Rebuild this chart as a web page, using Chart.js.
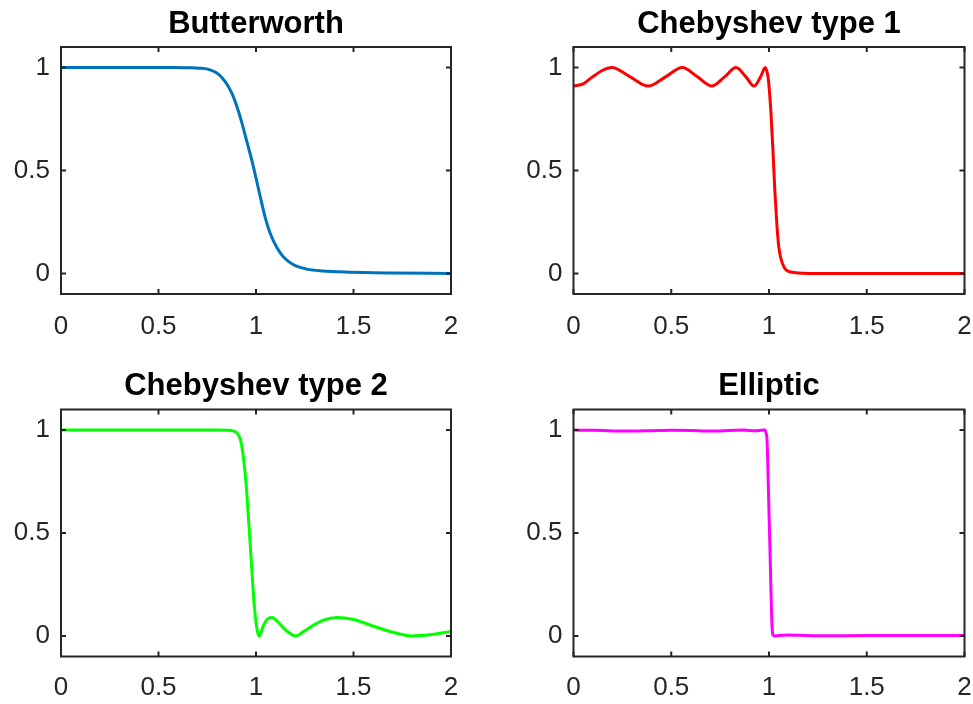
<!DOCTYPE html>
<html><head><meta charset="utf-8">
<script src="https://cdn.jsdelivr.net/npm/chart.js@4.4.0/dist/chart.umd.min.js"></script>
<style>
html,body{margin:0;padding:0;background:#fff;}
#wrap{position:relative;width:973px;height:704px;overflow:hidden;background:#fff;}
canvas{position:absolute;}
</style></head><body>
<div id="wrap">
<canvas id="c0" style="left:0px;top:0px;width:486px;height:352px" width="486" height="352"></canvas>
<canvas id="c1" style="left:486px;top:0px;width:487px;height:352px" width="487" height="352"></canvas>
<canvas id="c2" style="left:0px;top:352px;width:486px;height:352px" width="486" height="352"></canvas>
<canvas id="c3" style="left:486px;top:352px;width:487px;height:352px" width="487" height="352"></canvas>
</div>
<script>
const xTicks = [0, 0.5, 1, 1.5, 2];
const yTicks = [0, 0.5, 1];
const titles = ['Butterworth', 'Chebyshev type 1', 'Chebyshev type 2', 'Elliptic'];
const colors = ['#0072BD', '#FF0000', '#00FF00', '#FF00FF'];

const butterX = [0, 0.3, 0.5, 0.56, 0.65, 0.71, 0.765, 0.807, 0.842, 0.876, 0.902, 0.928, 0.953, 0.979, 1.0, 1.021, 1.047, 1.073, 1.107, 1.141, 1.192, 1.261, 1.346, 1.423, 1.55, 1.7, 2.0];
const butterY = [1, 1, 1, 1, 0.999, 0.997, 0.989, 0.968, 0.932, 0.876, 0.811, 0.73, 0.641, 0.548, 0.464, 0.376, 0.272, 0.194, 0.126, 0.08, 0.042, 0.021, 0.012, 0.008, 0.004, 0.002, 0];

const cheb1X = [0, 0.05, 0.098, 0.15, 0.195, 0.29, 0.383, 0.471, 0.556, 0.634, 0.707, 0.773, 0.831, 0.882, 0.924, 0.957, 0.981, 0.995, 1.0, 1.01, 1.02, 1.03, 1.04, 1.05, 1.06, 1.08, 1.1, 1.15, 1.2, 1.5, 2.0];
const cheb1Y = [0.91, 0.921, 0.955, 0.987, 1.0, 0.955, 0.91, 0.955, 1.0, 0.955, 0.91, 0.955, 1.0, 0.955, 0.91, 0.955, 1.0, 0.955, 0.91, 0.78, 0.6, 0.4, 0.24, 0.13, 0.075, 0.025, 0.01, 0.002, 0, 0, 0];

const cheb2X = [0, 0.5, 0.8, 0.85, 0.88, 0.9, 0.92, 0.935, 0.95, 0.96, 0.97, 0.98, 0.99, 1.0, 1.008, 1.017, 1.04, 1.06, 1.082, 1.11, 1.14, 1.17, 1.203, 1.25, 1.3, 1.35, 1.414, 1.5, 1.6, 1.7, 1.8, 1.9, 2.0];
const cheb2Y = [1, 1, 1, 0.999, 0.996, 0.988, 0.955, 0.87, 0.73, 0.59, 0.45, 0.3, 0.16, 0.065, 0.02, 0, 0.055, 0.083, 0.09, 0.07, 0.04, 0.015, 0, 0.025, 0.055, 0.078, 0.09, 0.08, 0.048, 0.018, 0, 0.007, 0.022];

const ellipX = [0, 0.1, 0.2, 0.3, 0.4, 0.5, 0.6, 0.7, 0.8, 0.87, 0.93, 0.97, 0.978, 0.985, 0.99, 0.995, 1.0, 1.005, 1.01, 1.015, 1.02, 1.03, 1.05, 1.1, 1.15, 1.25, 1.4, 1.6, 1.8, 2.0];
const ellipY = [1.0, 0.999, 0.996, 0.995, 0.997, 0.999, 0.998, 0.995, 0.998, 1.0, 0.997, 1.0, 1.0, 0.985, 0.95, 0.79, 0.6, 0.42, 0.22, 0.06, 0.005, 0, 0.002, 0.004, 0.003, 0.001, 0.001, 0.002, 0.002, 0.002];

const FONT = "'Liberation Sans', Arial, Helvetica, sans-serif";
const AXIS = '#262626';

const boxPlugin = {
  id: 'matlabBox',
  afterDatasetsDraw(chart) {
    const ctx = chart.ctx, a = chart.chartArea, sx = chart.scales.x, sy = chart.scales.y;
    const L = 5;
    ctx.save();
    ctx.strokeStyle = AXIS;
    ctx.lineWidth = 2;
    ctx.beginPath();
    sx.ticks.forEach(t => {
      const p = sx.getPixelForValue(t.value);
      ctx.moveTo(p, a.bottom); ctx.lineTo(p, a.bottom - L);
      ctx.moveTo(p, a.top); ctx.lineTo(p, a.top + L);
    });
    sy.ticks.forEach(t => {
      const p = sy.getPixelForValue(t.value);
      ctx.moveTo(a.left, p); ctx.lineTo(a.left + L, p);
      ctx.moveTo(a.right, p); ctx.lineTo(a.right - L, p);
    });
    ctx.stroke();
    ctx.strokeRect(a.left, a.top, a.right - a.left, a.bottom - a.top);
    ctx.restore();
  }
};

function makeChart(id, title, xs, ys, color, g) {
  const pts = xs.map((x, i) => ({ x: x, y: ys[i] }));
  return new Chart(document.getElementById(id), {
    type: 'line',
    data: { datasets: [{ data: pts, borderColor: color, borderWidth: 3, pointRadius: 0, cubicInterpolationMode: 'monotone', fill: false, borderJoinStyle: 'round' }] },
    options: {
      responsive: false, animation: false, events: [],
      layout: { padding: { left: 0, right: g.padR, top: 0, bottom: 0 } },
      plugins: {
        legend: { display: false }, tooltip: { enabled: false },
        title: { display: true, fullSize: false, text: title, color: '#000',
          font: { family: FONT, size: 31, weight: 'bold', lineHeight: 1.2 },
          padding: { top: g.tTop, bottom: g.tBot } }
      },
      scales: {
        x: {
          type: 'linear', min: 0, max: 2,
          afterBuildTicks: s => { s.ticks = xTicks.map(v => ({ value: v })); },
          afterFit: s => { s.height = g.xH; s.paddingLeft = 0; s.paddingRight = 0; },
          grid: { display: false, drawTicks: false }, border: { display: false },
          ticks: { color: AXIS, font: { family: FONT, size: 26 }, padding: g.xPad, maxRotation: 0, autoSkip: false, callback: v => String(v) }
        },
        y: {
          type: 'linear', min: -0.1, max: 1.1,
          afterBuildTicks: s => { s.ticks = yTicks.map(v => ({ value: v })); },
          afterFit: s => { s.width = g.yW; s.paddingTop = 0; s.paddingBottom = 0; },
          grid: { display: false, drawTicks: false }, border: { display: false },
          ticks: { color: AXIS, font: { family: FONT, size: 26 }, padding: 11, autoSkip: false, callback: v => String(v) }
        }
      }
    },
    plugins: [boxPlugin]
  });
}

const gTL = { padR: 35, yW: 61, xH: 58, tTop: 5.9, tBot: 3.9, xPad: 17 };
const gTR = { padR: 8.5, yW: 87.5, xH: 58, tTop: 5.9, tBot: 3.9, xPad: 17 };
const gBL = { padR: 35, yW: 61, xH: 47.5, tTop: 15.9, tBot: 4.4, xPad: 16 };
const gBR = { padR: 8.5, yW: 87.5, xH: 47.5, tTop: 15.9, tBot: 4.4, xPad: 16 };

makeChart('c0', titles[0], butterX, butterY, colors[0], gTL);
makeChart('c1', titles[1], cheb1X, cheb1Y, colors[1], gTR);
makeChart('c2', titles[2], cheb2X, cheb2Y, colors[2], gBL);
makeChart('c3', titles[3], ellipX, ellipY, colors[3], gBR);
</script>
</body></html>
